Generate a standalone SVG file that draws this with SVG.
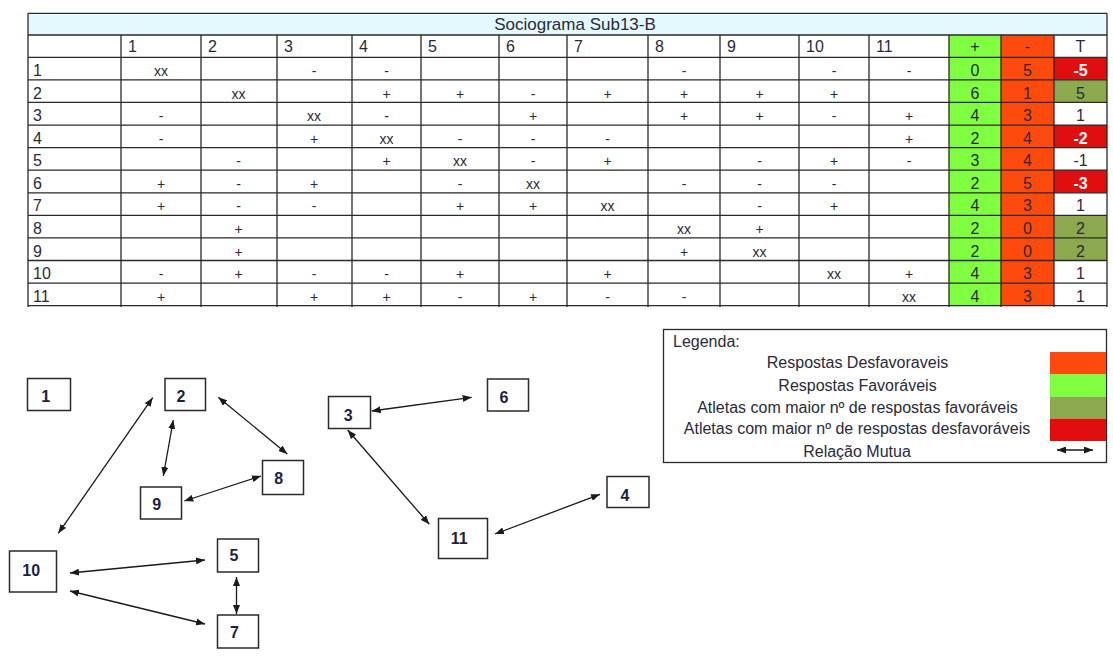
<svg xmlns="http://www.w3.org/2000/svg" width="1113" height="662" viewBox="0 0 1113 662">
<style>
text{font-family:"Liberation Sans",Arial,sans-serif;fill:#2a2a3a}
.t{font-size:17px;text-anchor:middle}
.h{font-size:16px}
.s{font-size:14px;text-anchor:middle}
.n{font-size:16px;text-anchor:middle}
.w{font-size:16px;text-anchor:middle;font-weight:bold;fill:#fff}
.g{stroke:#2a2a2a;stroke-width:1.3;fill:none}
.node rect{fill:#fff;stroke:#2a2a2a;stroke-width:1.5}
.node text{font-size:16px;font-weight:bold;text-anchor:middle;fill:#1f1f40}
.lg{font-size:16px;text-anchor:middle}
.c{stroke:#1a1a1a;stroke-width:1.3;fill:none;marker-start:url(#ah);marker-end:url(#ah)}
</style>
<defs>
<marker id="ah" viewBox="0 0 9 7" refX="9" refY="3.5" markerWidth="9" markerHeight="7" markerUnits="userSpaceOnUse" orient="auto-start-reverse"><path d="M0,0 L9,3.5 L0,7 z" fill="#1a1a1a"/></marker>
</defs>
<rect width="1113" height="662" fill="#fff"/>
<g id="table">
<rect x="28" y="13.3" width="1079" height="21.7" fill="#e3f9fd"/>
<rect x="949" y="35" width="52" height="270.7" fill="#80ff40"/>
<rect x="1001" y="35" width="53" height="270.7" fill="#ff4a0e"/>
<rect x="1054" y="57.3" width="53" height="22.58" fill="#e00e0e"/>
<rect x="1054" y="79.88" width="53" height="22.58" fill="#8ca94e"/>
<rect x="1054" y="125.04" width="53" height="22.58" fill="#e00e0e"/>
<rect x="1054" y="170.2" width="53" height="22.58" fill="#e00e0e"/>
<rect x="1054" y="215.36" width="53" height="45.16" fill="#8ca94e"/>
<path class="g" d="M28,13.3H1107M28,35H1107M28,57.3H1107M28,79.88H1107M28,102.46H1107M28,125.04H1107M28,147.62H1107M28,170.2H1107M28,192.78H1107M28,215.36H1107M28,237.94H1107M28,260.52H1107M28,283.1H1107M28,305.68H1107"/>
<path class="g" d="M28,13.3V307M1107,13.3V307M121,35V307M201,35V307M277,35V307M352,35V307M421,35V307M499,35V307M567,35V307M648,35V307M720,35V307M799,35V307M869,35V307M949,35V307M1001,35V307M1054,35V307"/>
<text class="t" x="575" y="30">Sociograma Sub13-B</text>
<g class="h">
<text x="128" y="52">1</text><text x="208" y="52">2</text><text x="284" y="52">3</text><text x="359" y="52">4</text><text x="428" y="52">5</text><text x="506" y="52">6</text><text x="574" y="52">7</text><text x="655" y="52">8</text><text x="727" y="52">9</text><text x="806" y="52">10</text><text x="876" y="52">11</text>
<text x="33" y="76">1</text><text x="33" y="98.5">2</text><text x="33" y="121">3</text><text x="33" y="143.6">4</text><text x="33" y="166.2">5</text><text x="33" y="188.8">6</text><text x="33" y="211.4">7</text><text x="33" y="234">8</text><text x="33" y="256.5">9</text><text x="33" y="279.1">10</text><text x="33" y="301.7">11</text>
</g>
<text class="n" x="975" y="52">+</text><text class="n" x="1027.5" y="52">-</text><text class="n" x="1080.5" y="52">T</text>
<!-- row 1 -->
<text class="s" x="161" y="76">xx</text><text class="s" x="314" y="76">-</text><text class="s" x="386.5" y="76">-</text><text class="s" x="684" y="76">-</text><text class="s" x="834" y="76">-</text><text class="s" x="909" y="76">-</text>
<text class="n" x="975" y="76">0</text><text class="n" x="1027.5" y="76">5</text><text class="w" x="1080.5" y="76">-5</text>
<!-- row 2 -->
<text class="s" x="238.5" y="98.5">xx</text><text class="s" x="386.5" y="98.5">+</text><text class="s" x="460" y="98.5">+</text><text class="s" x="533" y="98.5">-</text><text class="s" x="607.5" y="98.5">+</text><text class="s" x="684" y="98.5">+</text><text class="s" x="759.5" y="98.5">+</text><text class="s" x="834" y="98.5">+</text>
<text class="n" x="975" y="98.5">6</text><text class="n" x="1027.5" y="98.5">1</text><text class="n" x="1080.5" y="98.5">5</text>
<!-- row 3 -->
<text class="s" x="161" y="121">-</text><text class="s" x="314" y="121">xx</text><text class="s" x="386.5" y="121">-</text><text class="s" x="533" y="121">+</text><text class="s" x="684" y="121">+</text><text class="s" x="759.5" y="121">+</text><text class="s" x="834" y="121">-</text><text class="s" x="909" y="121">+</text>
<text class="n" x="975" y="121">4</text><text class="n" x="1027.5" y="121">3</text><text class="n" x="1080.5" y="121">1</text>
<!-- row 4 -->
<text class="s" x="161" y="143.6">-</text><text class="s" x="314" y="143.6">+</text><text class="s" x="386.5" y="143.6">xx</text><text class="s" x="460" y="143.6">-</text><text class="s" x="533" y="143.6">-</text><text class="s" x="607.5" y="143.6">-</text><text class="s" x="909" y="143.6">+</text>
<text class="n" x="975" y="143.6">2</text><text class="n" x="1027.5" y="143.6">4</text><text class="w" x="1080.5" y="143.6">-2</text>
<!-- row 5 -->
<text class="s" x="238.5" y="166.2">-</text><text class="s" x="386.5" y="166.2">+</text><text class="s" x="460" y="166.2">xx</text><text class="s" x="533" y="166.2">-</text><text class="s" x="607.5" y="166.2">+</text><text class="s" x="759.5" y="166.2">-</text><text class="s" x="834" y="166.2">+</text><text class="s" x="909" y="166.2">-</text>
<text class="n" x="975" y="166.2">3</text><text class="n" x="1027.5" y="166.2">4</text><text class="n" x="1080.5" y="166.2">-1</text>
<!-- row 6 -->
<text class="s" x="161" y="188.8">+</text><text class="s" x="238.5" y="188.8">-</text><text class="s" x="314" y="188.8">+</text><text class="s" x="460" y="188.8">-</text><text class="s" x="533" y="188.8">xx</text><text class="s" x="684" y="188.8">-</text><text class="s" x="759.5" y="188.8">-</text><text class="s" x="834" y="188.8">-</text>
<text class="n" x="975" y="188.8">2</text><text class="n" x="1027.5" y="188.8">5</text><text class="w" x="1080.5" y="188.8">-3</text>
<!-- row 7 -->
<text class="s" x="161" y="211.4">+</text><text class="s" x="238.5" y="211.4">-</text><text class="s" x="314" y="211.4">-</text><text class="s" x="460" y="211.4">+</text><text class="s" x="533" y="211.4">+</text><text class="s" x="607.5" y="211.4">xx</text><text class="s" x="759.5" y="211.4">-</text><text class="s" x="834" y="211.4">+</text>
<text class="n" x="975" y="211.4">4</text><text class="n" x="1027.5" y="211.4">3</text><text class="n" x="1080.5" y="211.4">1</text>
<!-- row 8 -->
<text class="s" x="238.5" y="234">+</text><text class="s" x="684" y="234">xx</text><text class="s" x="759.5" y="234">+</text>
<text class="n" x="975" y="234">2</text><text class="n" x="1027.5" y="234">0</text><text class="n" x="1080.5" y="234">2</text>
<!-- row 9 -->
<text class="s" x="238.5" y="256.5">+</text><text class="s" x="684" y="256.5">+</text><text class="s" x="759.5" y="256.5">xx</text>
<text class="n" x="975" y="256.5">2</text><text class="n" x="1027.5" y="256.5">0</text><text class="n" x="1080.5" y="256.5">2</text>
<!-- row 10 -->
<text class="s" x="161" y="279.1">-</text><text class="s" x="238.5" y="279.1">+</text><text class="s" x="314" y="279.1">-</text><text class="s" x="386.5" y="279.1">-</text><text class="s" x="460" y="279.1">+</text><text class="s" x="607.5" y="279.1">+</text><text class="s" x="834" y="279.1">xx</text><text class="s" x="909" y="279.1">+</text>
<text class="n" x="975" y="279.1">4</text><text class="n" x="1027.5" y="279.1">3</text><text class="n" x="1080.5" y="279.1">1</text>
<!-- row 11 -->
<text class="s" x="161" y="301.7">+</text><text class="s" x="314" y="301.7">+</text><text class="s" x="386.5" y="301.7">+</text><text class="s" x="460" y="301.7">-</text><text class="s" x="533" y="301.7">+</text><text class="s" x="607.5" y="301.7">-</text><text class="s" x="684" y="301.7">-</text><text class="s" x="909" y="301.7">xx</text>
<text class="n" x="975" y="301.7">4</text><text class="n" x="1027.5" y="301.7">3</text><text class="n" x="1080.5" y="301.7">1</text>
</g>
<g id="legend">
<rect x="663.5" y="329.5" width="443" height="133" fill="#fff" stroke="#2a2a2a" stroke-width="1.3"/>
<rect x="1050" y="352" width="56" height="22" fill="#ff4a0e"/>
<rect x="1050" y="374" width="56" height="22.7" fill="#80ff40"/>
<rect x="1050" y="396.7" width="56" height="22" fill="#8ca94e"/>
<rect x="1050" y="418.7" width="56" height="22.3" fill="#e00e0e"/>
<text class="h" x="673" y="347">Legenda:</text>
<text class="lg" x="857.5" y="368">Respostas Desfavoraveis</text>
<text class="lg" x="857.5" y="390.5">Respostas Favoráveis</text>
<text class="lg" x="857.5" y="412.5">Atletas com maior nº de respostas favoráveis</text>
<text class="lg" x="857" y="434">Atletas com maior nº de respostas desfavoráveis</text>
<text class="lg" x="857" y="456.5">Relação Mutua</text>
<line class="c" x1="1057" y1="450" x2="1093" y2="450"/>
</g>
<g id="connectors">
<line class="c" x1="152.7" y1="397.7" x2="58.3" y2="533.3"/>
<line class="c" x1="173.3" y1="420" x2="163.3" y2="476"/>
<line class="c" x1="218.3" y1="397.3" x2="287.3" y2="454"/>
<line class="c" x1="184.3" y1="501" x2="261" y2="476"/>
<line class="c" x1="371.7" y1="411" x2="471.7" y2="397.3"/>
<line class="c" x1="347.7" y1="430" x2="429.3" y2="524.3"/>
<line class="c" x1="600" y1="494.3" x2="495" y2="534"/>
<line class="c" x1="70" y1="573" x2="205" y2="560"/>
<line class="c" x1="70" y1="591" x2="205" y2="624"/>
<line class="c" x1="236.5" y1="577" x2="236.5" y2="614"/>
</g>
<g id="node1" class="node"><rect x="27.5" y="378.5" width="43" height="32"/><text x="45.7" y="402">1</text></g>
<g id="node2" class="node"><rect x="165" y="378.5" width="40.5" height="32"/><text x="181" y="402">2</text></g>
<g id="node3" class="node"><rect x="328.5" y="396.5" width="42" height="32"/><text x="348.3" y="421">3</text></g>
<g id="node4" class="node"><rect x="607" y="476.5" width="42" height="31"/><text x="625" y="501">4</text></g>
<g id="node5" class="node"><rect x="217.5" y="539" width="41" height="33"/><text x="234" y="561">5</text></g>
<g id="node6" class="node"><rect x="487.5" y="379" width="41" height="32"/><text x="504" y="402.5">6</text></g>
<g id="node7" class="node"><rect x="217.5" y="615" width="41" height="33"/><text x="234.5" y="638">7</text></g>
<g id="node8" class="node"><rect x="262.5" y="460.5" width="41" height="34"/><text x="278.7" y="484">8</text></g>
<g id="node9" class="node"><rect x="140.5" y="487" width="41" height="32"/><text x="156.7" y="510">9</text></g>
<g id="node10" class="node"><rect x="9.5" y="551" width="47" height="41"/><text x="31.2" y="576">10</text></g>
<g id="node11" class="node"><rect x="438.5" y="518.5" width="49" height="40"/><text x="459.3" y="544">11</text></g>
</svg>
